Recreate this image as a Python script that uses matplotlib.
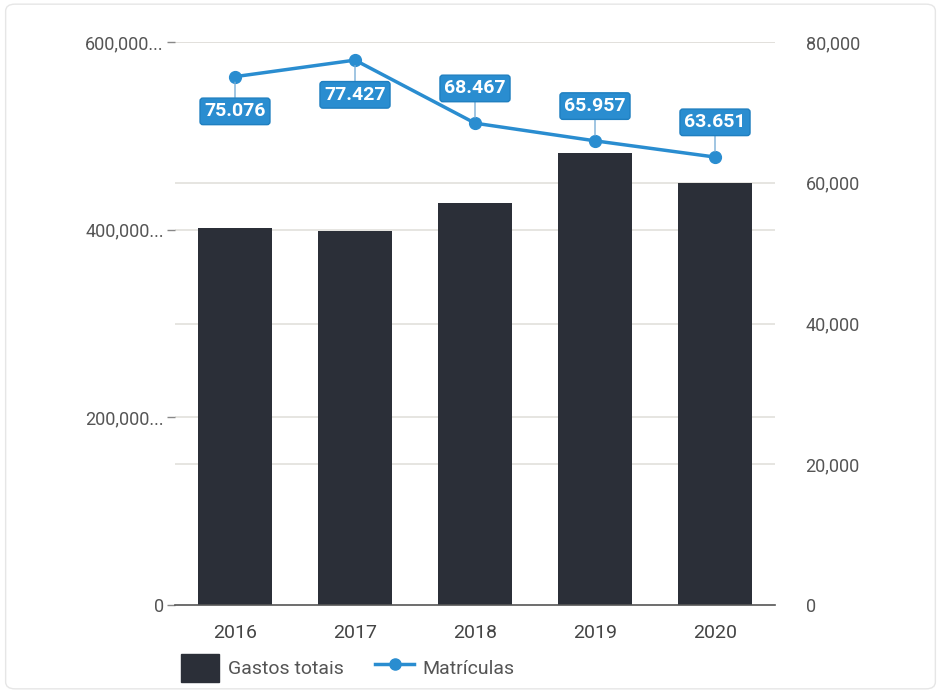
import matplotlib
matplotlib.use("Agg")
import matplotlib.pyplot as plt
from matplotlib.patches import Patch, FancyBboxPatch
from matplotlib.lines import Line2D
from matplotlib.transforms import blended_transform_factory

years = ["2016", "2017", "2018", "2019", "2020"]
gastos = [401800, 398600, 428400, 481700, 449700]
matriculas = [75076, 77427, 68467, 65957, 63651]
mat_labels = ["75.076", "77.427", "68.467", "65.957", "63.651"]
label_side = [-1, -1, 1, 1, 1]

left_ticks = [0, 200000, 400000, 600000]
left_tick_labels = ["0", "200,000...", "400,000...", "600,000..."]
right_ticks = [0, 20000, 40000, 60000, 80000]
right_tick_labels = ["0", "20,000", "40,000", "60,000", "80,000"]

plt.rcParams["font.family"] = ["Roboto", "DejaVu Sans"]

bar_color = "#2b2f38"
blue = "#2a8dd0"
grid_color = "#e2e0dc"
text_color = "#555555"

fig = plt.figure(figsize=(9.41, 6.93), dpi=100)
fig.patch.set_facecolor("white")
border = FancyBboxPatch((0.006, 0.006), 0.988, 0.988, boxstyle="round,pad=0,rounding_size=0.01",
                        transform=fig.transFigure, fill=False, edgecolor="#e6e6e6", linewidth=1)
fig.patches.append(border)

ax = fig.add_axes([175/941, 1-605/693, 600/941, 563/693])
ax2 = ax.twinx()
ax2.set_ylim(0, 80000)

x = list(range(len(years)))
ax.bar(x, gastos, width=0.62, color=bar_color, zorder=3)
ax.set_xlim(-0.5, 4.5)
ax.set_ylim(0, 600000)
ax.set_yticks(left_ticks)
ax.set_yticklabels(left_tick_labels)
ax.set_xticks(x)
ax.set_xticklabels(years)
ax.tick_params(axis="x", length=0, pad=14, labelsize=14, labelcolor="#444444")
ax.tick_params(axis="y", length=6, width=1, color="#888888", pad=2, labelsize=13, labelcolor=text_color)
for s in ["top", "right", "left"]:
    ax.spines[s].set_visible(False)
ax.spines["bottom"].set_color("#555555")
ax.spines["bottom"].set_linewidth(1.2)
ax.spines["bottom"].set_zorder(5)
for t in left_ticks[1:]:
    ax.axhline(t, color=grid_color, linewidth=1.2, zorder=1)
# right-axis gridlines drawn on the bar axes (behind bars) in the right axis' data coordinates
rtrans = blended_transform_factory(ax.transAxes, ax2.transData)
for t in right_ticks[1:]:
    ax.plot([0, 1], [t, t], transform=rtrans, color=grid_color, linewidth=1.2, zorder=1)

ax2.set_yticks(right_ticks)
ax2.set_yticklabels(right_tick_labels)
ax2.tick_params(axis="y", length=0, pad=22, labelsize=13, labelcolor=text_color)
for s in ["top", "right", "left", "bottom"]:
    ax2.spines[s].set_visible(False)

ax2.plot(x, matriculas, color=blue, linewidth=2.5, marker="o", markersize=8.5, zorder=6)
for xi, v, lab, side in zip(x, matriculas, mat_labels, label_side):
    ax2.annotate(lab, xy=(xi, v), xytext=(0, 25 * side), textcoords="offset points",
                 ha="center", va="center", color="white", fontsize=14, fontweight="bold",
                 bbox=dict(boxstyle="round,pad=0.22,rounding_size=0.15", fc=blue, ec="#1f7fc0", lw=1),
                 arrowprops=dict(arrowstyle="-", color="#7aaed6", lw=1, shrinkA=0, shrinkB=4),
                 zorder=7)

handles = [Patch(facecolor=bar_color, edgecolor=bar_color, label="Gastos totais"),
           Line2D([0], [0], color=blue, linewidth=2.5, marker="o", markersize=8, label="Matrículas")]
fig.legend(handles=handles, loc="center left", bbox_to_anchor=(163/941, 1-668/693), ncol=2,
           frameon=False, fontsize=14, labelcolor="#555555", handlelength=2.0, handleheight=1.8,
           columnspacing=1.6, handletextpad=0.45)

fig.savefig("out.png", dpi=100, facecolor="white")
